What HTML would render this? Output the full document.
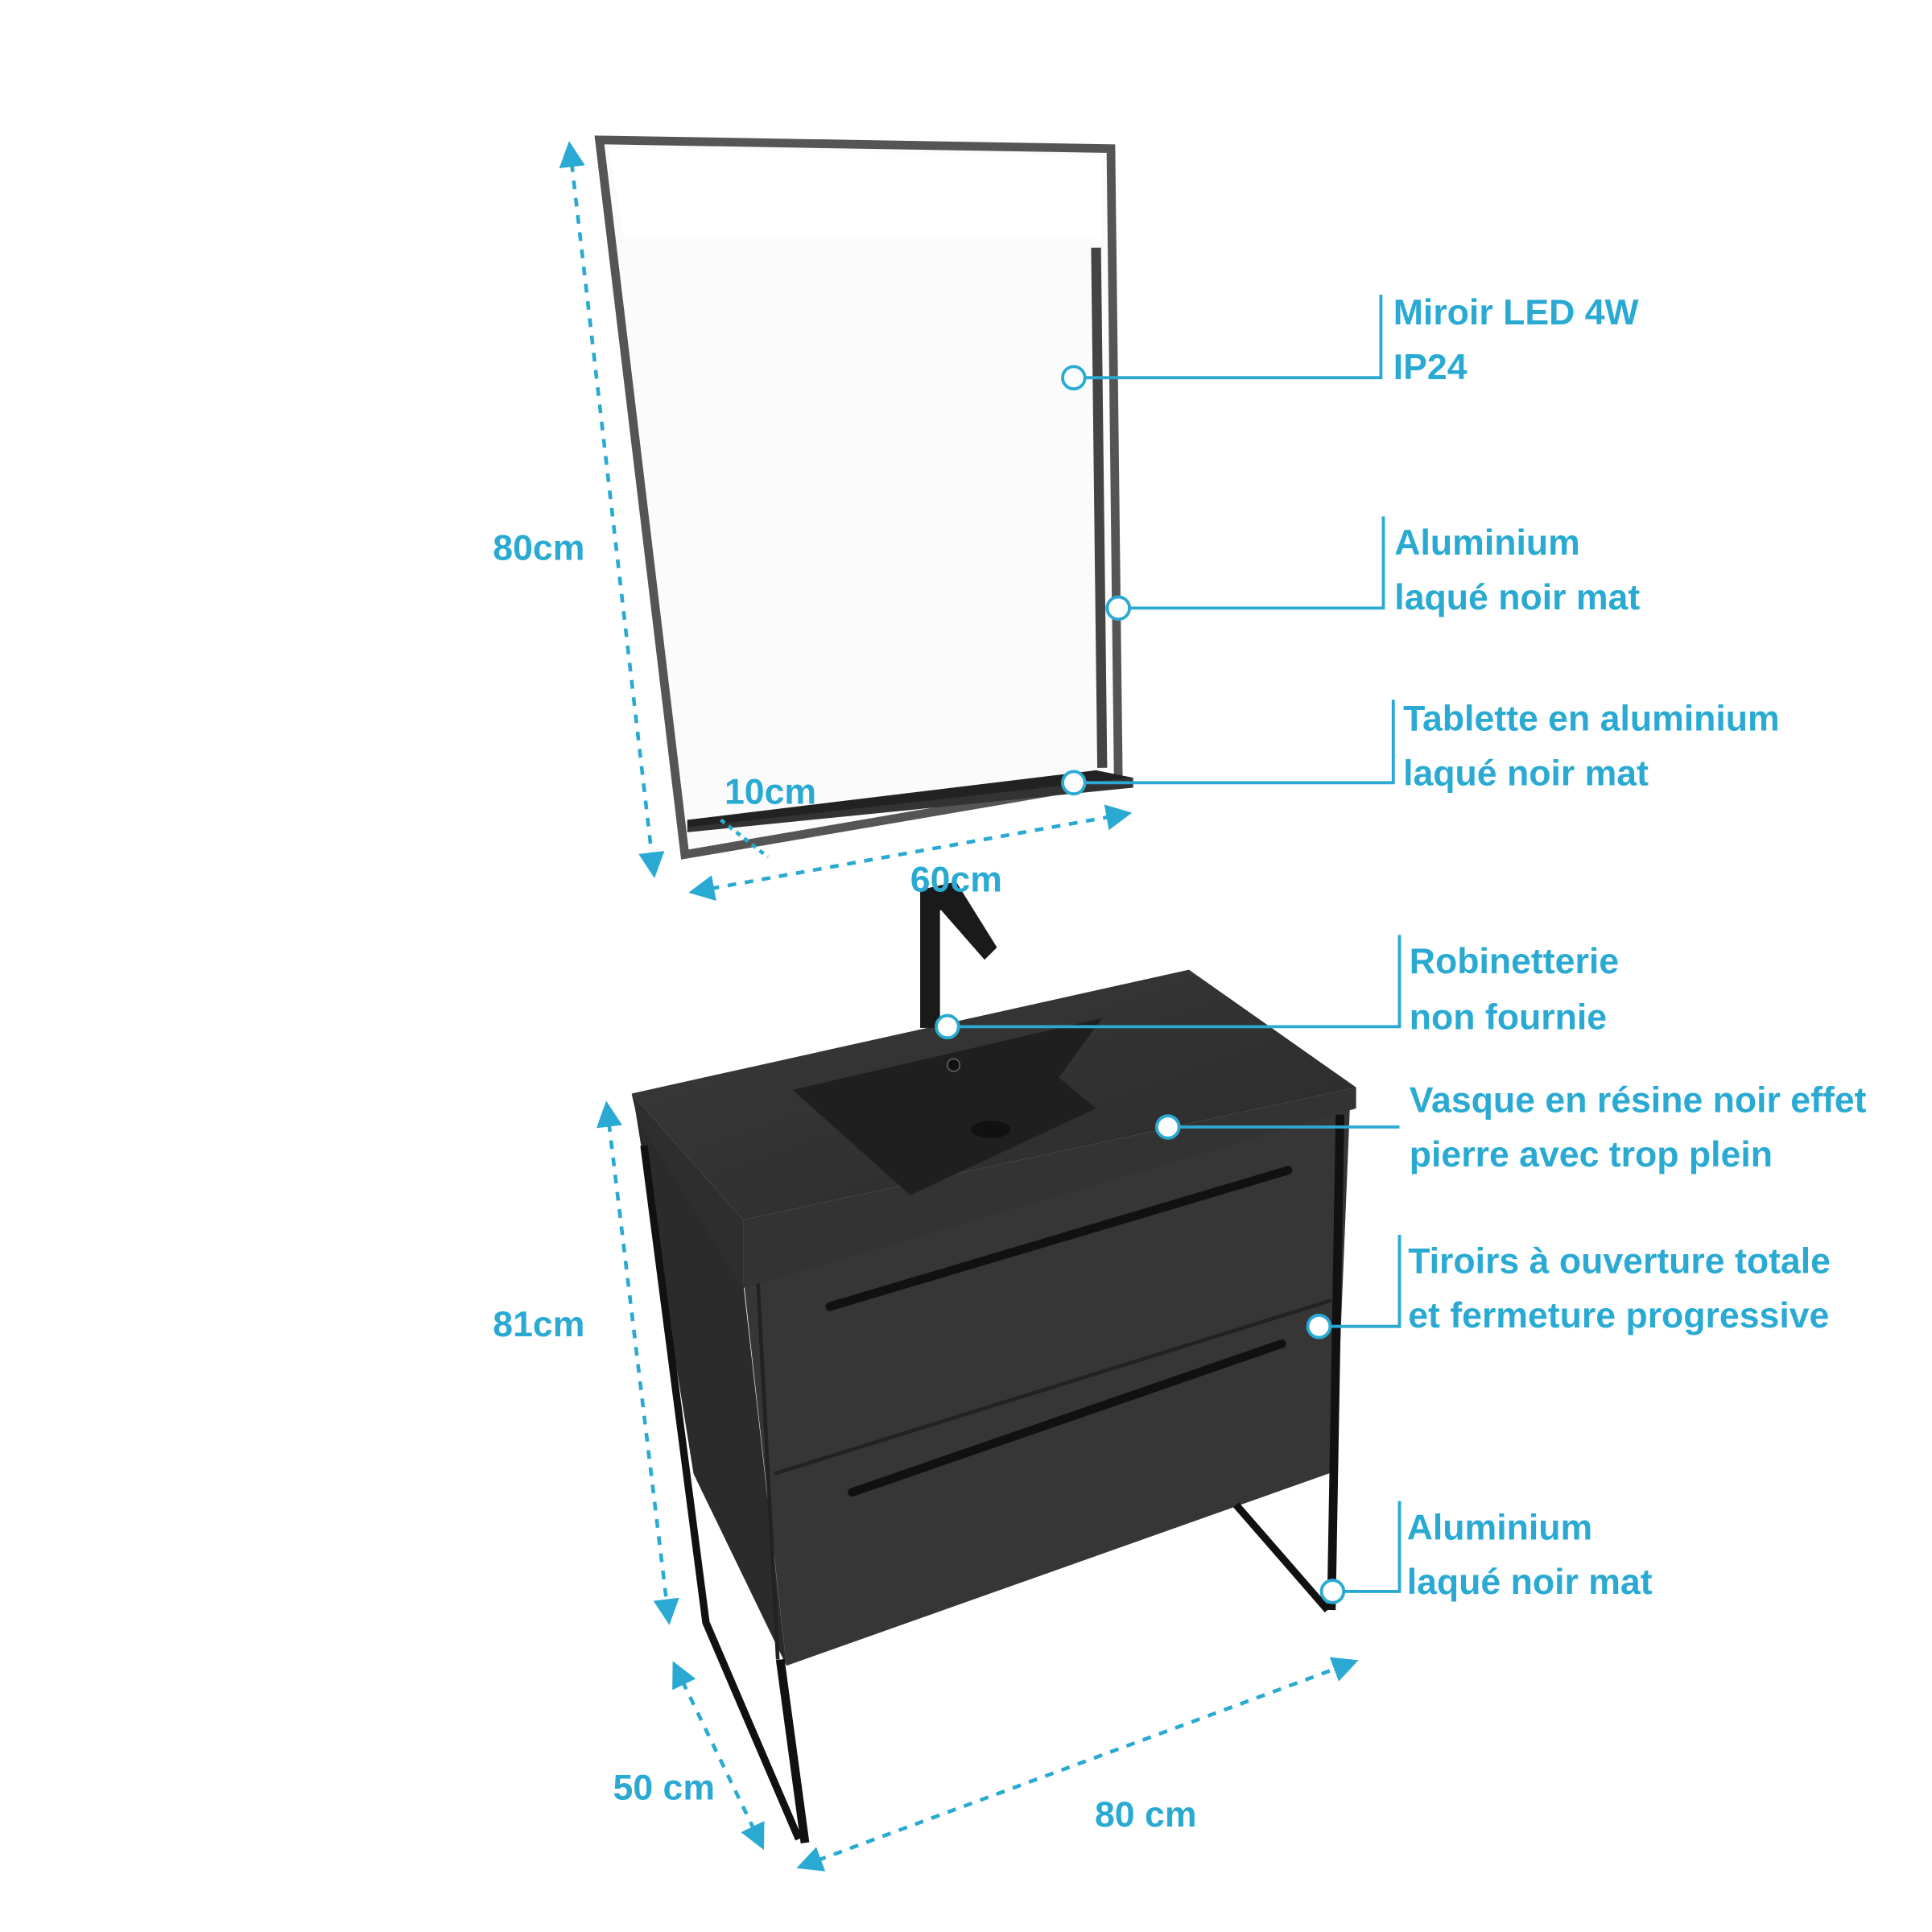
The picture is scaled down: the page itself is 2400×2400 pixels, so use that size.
<!DOCTYPE html>
<html><head><meta charset="utf-8"><style>
html,body{margin:0;padding:0;background:#fff}
svg{display:block}
text{font-family:"Liberation Sans",sans-serif;font-weight:bold;fill:#2aaad2;font-size:29px}
</style></head><body>
<svg width="2400" height="2400" viewBox="0 0 1560 1560" xmlns="http://www.w3.org/2000/svg">
<defs>
<marker id="a" viewBox="0 0 10 10" refX="8" refY="5" markerWidth="7" markerHeight="7" orient="auto-start-reverse">
<path d="M0,0 L10,5 L0,10 z" fill="#2aaad2"/></marker>
<linearGradient id="top" x1="0" y1="0" x2="1" y2="1"><stop offset="0" stop-color="#3a3a3a"/><stop offset="1" stop-color="#2a2a2a"/></linearGradient>
</defs>
<!-- Mirror -->
<polygon points="484,113 897,120 903,630 553,690" fill="#fbfbfb" stroke="#555" stroke-width="7"/>
<polygon points="492,120 890,126 890,193 504,193" fill="#fff"/>
<polygon points="555,662 915,628 915,636 555,672" fill="#333"/>
<polygon points="555,662 885,622 915,628 555,668" fill="#222"/>
<line x1="885" y1="200" x2="890" y2="620" stroke="#444" stroke-width="8"/>
<!-- Cabinet left side -->
<polygon points="512,890 600,1035 635,1345 560,1190" fill="#2b2b2b"/>
<!-- front -->
<polygon points="600,1030 1090,893 1078,1188 635,1345" fill="#363636"/>
<line x1="625" y1="1190" x2="1075" y2="1050" stroke="#222" stroke-width="3"/>
<line x1="612" y1="1035" x2="628" y2="1340" stroke="#222" stroke-width="3"/>
<!-- handles -->
<line x1="670" y1="1055" x2="1040" y2="945" stroke="#111" stroke-width="7" stroke-linecap="round"/>
<line x1="688" y1="1205" x2="1035" y2="1085" stroke="#111" stroke-width="7" stroke-linecap="round"/>
<!-- countertop -->
<polygon points="510,883 960,783 1095,878 600,985" fill="url(#top)"/>
<polygon points="510,883 600,985 600,1040 515,905" fill="#2e2e2e"/>
<polygon points="600,985 1095,878 1095,895 600,1040" fill="#333"/>
<!-- basin -->
<polygon points="640,880 890,822 855,870 885,895 735,965" fill="#1f1f1f"/>
<ellipse cx="800" cy="912" rx="16" ry="7" fill="#111"/>
<circle cx="770" cy="860" r="5" fill="#111" stroke="#666"/>
<!-- faucet -->
<rect x="743" y="718" width="16" height="112" fill="#1a1a1a"/>
<polygon points="745,718 772,712 805,765 795,775 760,735 745,735" fill="#1a1a1a"/>
<!-- legs -->
<polyline points="520,925 570,1310 645,1485" fill="none" stroke="#111" stroke-width="6"/>
<line x1="630" y1="1340" x2="650" y2="1488" stroke="#111" stroke-width="7"/>
<line x1="1082" y1="900" x2="1075" y2="1300" stroke="#111" stroke-width="7"/>
<line x1="998" y1="1215" x2="1072" y2="1300" stroke="#111" stroke-width="6"/>
<!-- dimension lines -->
<g stroke="#2aaad2" stroke-width="3" stroke-dasharray="7,7" fill="none">
<line x1="460" y1="118" x2="528" y2="705" marker-start="url(#a)" marker-end="url(#a)"/>
<line x1="560" y1="720" x2="910" y2="657" marker-start="url(#a)" marker-end="url(#a)"/>
<line x1="582" y1="662" x2="620" y2="692" stroke-dasharray="4,4"/>
<line x1="490" y1="893" x2="540" y2="1308" marker-start="url(#a)" marker-end="url(#a)"/>
<line x1="545" y1="1345" x2="615" y2="1490" marker-start="url(#a)" marker-end="url(#a)"/>
<line x1="647" y1="1507" x2="1093" y2="1342" marker-start="url(#a)" marker-end="url(#a)"/>
</g>
<!-- callouts -->
<g stroke="#2aaad2" stroke-width="2.5" fill="#fff">
<polyline points="867,305 1115,305 1115,238" fill="none"/>
<polyline points="903,491 1117,491 1117,417" fill="none"/>
<polyline points="867,632 1125,632 1125,565" fill="none"/>
<polyline points="765,829 1130,829 1130,755" fill="none"/>
<polyline points="943,910 1130,910" fill="none"/>
<polyline points="1065,1071 1130,1071 1130,997" fill="none"/>
<polyline points="1076,1285 1130,1285 1130,1212" fill="none"/>
<circle cx="867" cy="305" r="9"/><circle cx="903" cy="491" r="9"/><circle cx="867" cy="632" r="9"/>
<circle cx="765" cy="829" r="9"/><circle cx="943" cy="910" r="9"/><circle cx="1065" cy="1071" r="9"/><circle cx="1076" cy="1285" r="9"/>
</g>
<text x="1125" y="262">Miroir LED 4W</text><text x="1125" y="306">IP24</text>
<text x="1126" y="448">Aluminium</text><text x="1126" y="492">laqué noir mat</text>
<text x="1133" y="590">Tablette en aluminium</text><text x="1133" y="634">laqué noir mat</text>
<text x="1138" y="786">Robinetterie</text><text x="1138" y="831">non fournie</text>
<text x="1138" y="898">Vasque en résine noir effet</text><text x="1138" y="942">pierre avec trop plein</text>
<text x="1137" y="1028">Tiroirs à ouverture totale</text><text x="1137" y="1072">et fermeture progressive</text>
<text x="1136" y="1243">Aluminium</text><text x="1136" y="1287">laqué noir mat</text>
<text x="398" y="452">80cm</text>
<text x="585" y="649">10cm</text>
<text x="735" y="720">60cm</text>
<text x="398" y="1079">81cm</text>
<text x="495" y="1453">50 cm</text>
<text x="884" y="1475">80 cm</text>
</svg>
</body></html>
